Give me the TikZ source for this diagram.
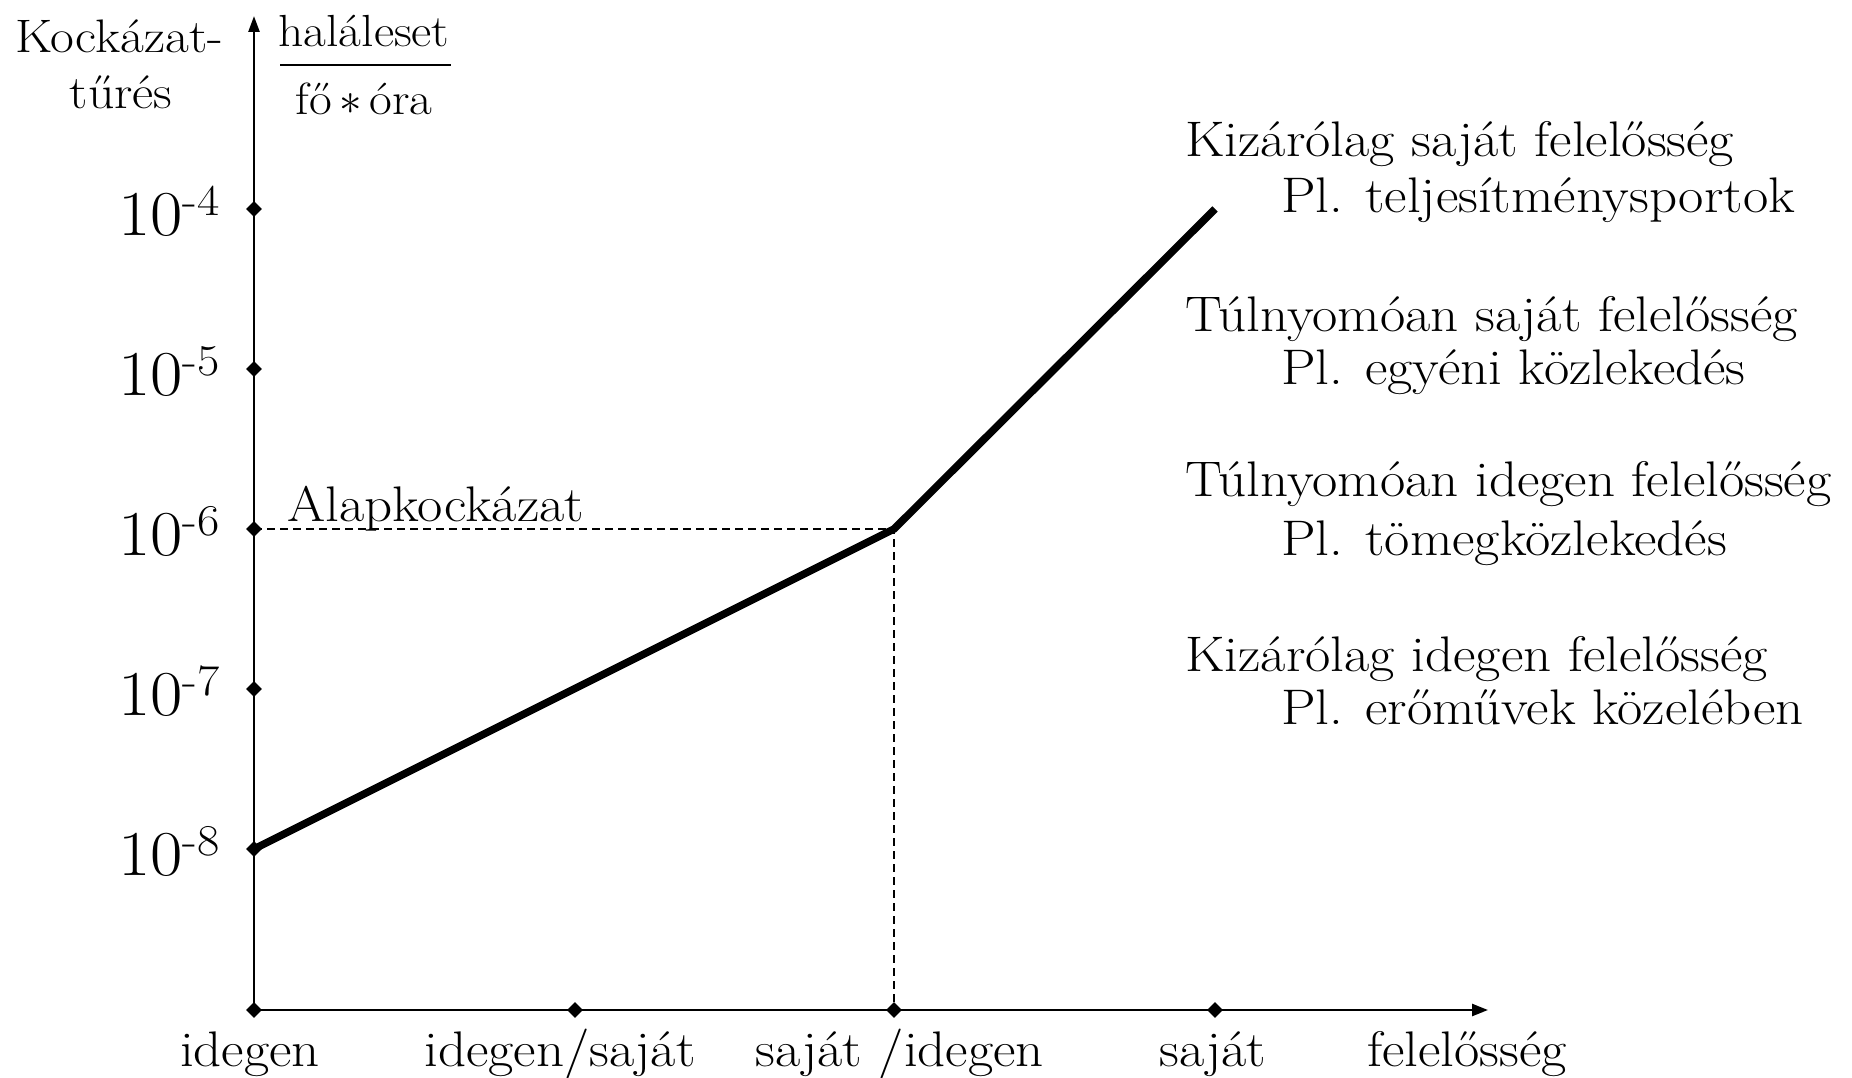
\RequirePackage{fix-cm}
\documentclass[tikz,border=0pt]{standalone}
\usepackage{fontspec}
\setmainfont{Latin Modern Roman}[FakeStretch=1.1]
\usetikzlibrary{arrows.meta,shapes.geometric}
\newcommand{\supx}[1]{\raisebox{20pt}{\fontsize{44}{52}\selectfont #1}}
\begin{document}
\begin{tikzpicture}[x=1pt,y=-1pt,
  txt/.style={font=\fontsize{50}{60}\selectfont, inner sep=0pt},
  toptxt/.style={font=\fontsize{47}{56}\selectfont, inner sep=0pt},
  ylab/.style={font=\fontsize{64}{76}\selectfont, inner sep=0pt, anchor=base east},
  tickmark/.style={diamond, fill=black, inner sep=0pt, minimum size=16pt},
  axis/.style={line width=2.5pt},
  curve/.style={line width=7.5pt, line join=miter},
  guide/.style={line width=1.6pt, dash pattern=on 8pt off 5pt}]
\useasboundingbox[fill=white] (0,0) rectangle (1852,1078);
% axes
\coordinate (O) at (254,1010);
\coordinate (xend) at (1488,1010);
\coordinate (yend) at (254,16);
\draw[axis,-{Triangle[length=16pt,width=12pt]}] (O) -- (xend);
\draw[axis,-{Triangle[length=16pt,width=11pt]}] (O) -- (yend);
% guide lines
\coordinate (knee) at (894,529);
\coordinate (top) at (1215,209);
\coordinate (y6c) at (254,529);
\coordinate (x3c) at (894,1010);
\draw[guide] (y6c) -- (knee) -- (x3c);
% curve
\coordinate (y8c) at (254,849);
\draw[curve] (y8c) -- (knee) -- (top);
% ticks
\node[tickmark] (y4) at (254,209) {};
\node[tickmark] (y5) at (254,369) {};
\node[tickmark] (y6) at (254,529) {};
\node[tickmark] (y7) at (254,689) {};
\node[tickmark] (y8) at (254,849) {};
\node[tickmark] (x1) at (254,1010) {};
\node[tickmark] (x2) at (575,1010) {};
\node[tickmark] (x3) at (894,1010) {};
\node[tickmark] (x4) at (1215,1010) {};
% y labels
\node[ylab] (l4) at (220,235) {10\supx{-4}};
\node[ylab] (l5) at (220,395) {10\supx{-5}};
\node[ylab] (l6) at (220,555) {10\supx{-6}};
\node[ylab] (l7) at (220,715) {10\supx{-7}};
\node[ylab] (l8) at (220,875) {10\supx{-8}};
% axis title
\node[toptxt, anchor=base] (k1) at (119,53) {Kockázat-};
\node[toptxt, anchor=base] (k2) at (121,109) {tűrés};
\node[toptxt, font=\fontsize{45}{54}\selectfont, anchor=base] (num) at (364,47) {haláleset};
\node[toptxt, font=\fontsize{45}{54}\selectfont, anchor=base] (den) at (364,115) {fő$\,\ast\,$óra};
\coordinate (fl) at (280,65);
\coordinate (fr) at (451,65);
\draw[line width=2pt] (fl) -- (fr);
% base risk
\node[txt, anchor=base west] (alap) at (287,521) {Alapkockázat};
% right texts
\node[txt, anchor=base west] (r1a) at (1185,157) {Kizárólag saját felelősség};
\node[txt, anchor=base west] (r1b) at (1281,213) {Pl. teljesítménysportok};
\node[txt, anchor=base west] (r2a) at (1185,331) {Túlnyomóan saját felelősség};
\node[txt, anchor=base west] (r2b) at (1281,384) {Pl. egyéni közlekedés};
\node[txt, anchor=base west] (r3a) at (1185,496) {Túlnyomóan idegen felelősség};
\node[txt, anchor=base west] (r3b) at (1281,555) {Pl. tömegközlekedés};
\node[txt, anchor=base west] (r4a) at (1185,671) {Kizárólag idegen felelősség};
\node[txt, anchor=base west] (r4b) at (1281,724) {Pl. erőművek közelében};
% x labels
\node[txt, anchor=base] (b1) at (250,1066) {idegen};
\node[txt, anchor=base] (b2) at (560,1066) {idegen/saját};
\node[txt, anchor=base] (b3) at (900,1066) {saját /idegen};
\node[txt, anchor=base] (b4) at (1213,1066) {saját};
\node[txt, anchor=base] (b5) at (1467,1066) {felelősség};
\end{tikzpicture}
\end{document}
